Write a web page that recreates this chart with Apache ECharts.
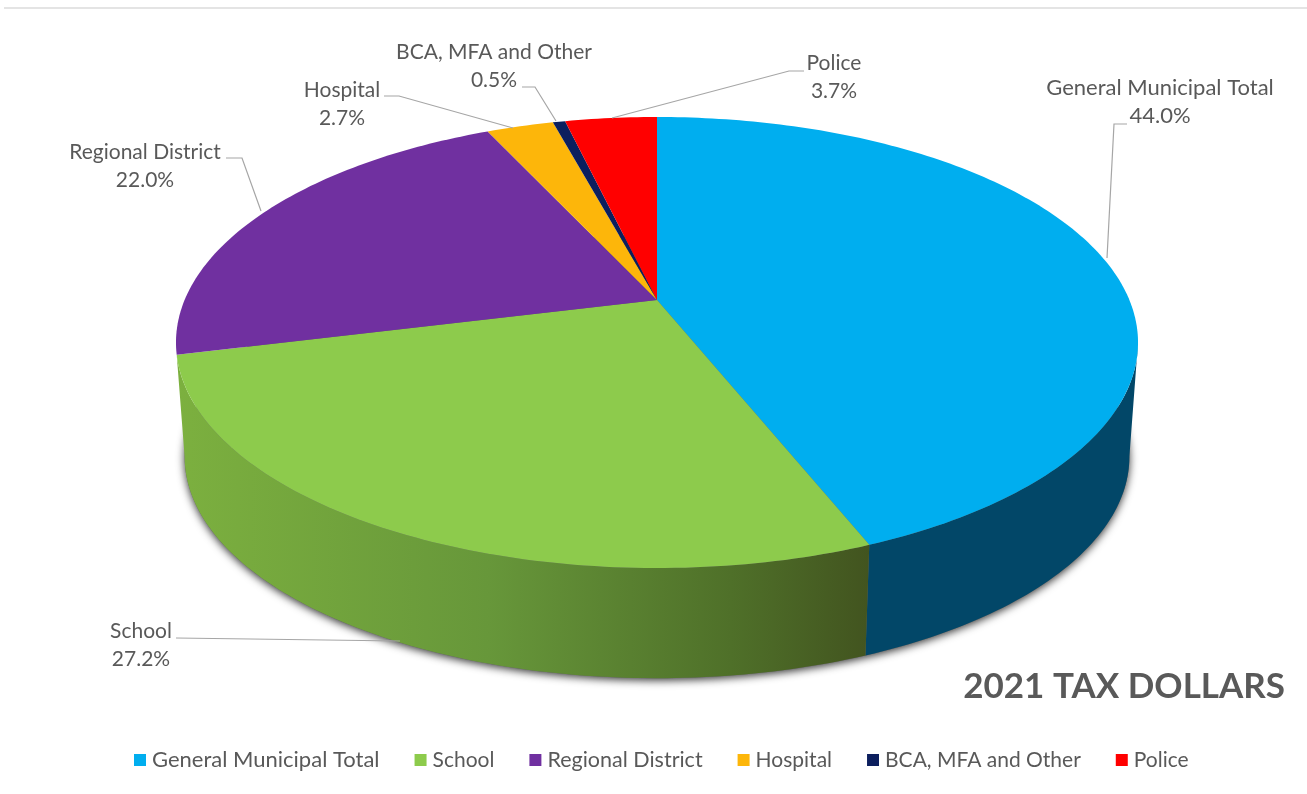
<!DOCTYPE html>
<html>
<head>
<meta charset="utf-8">
<title>2021 Tax Dollars</title>
<script src="https://cdn.jsdelivr.net/npm/echarts@6/dist/echarts.min.js"></script>
<style>
  html, body { margin: 0; padding: 0; background: #fff; }
  #chart { width: 1307px; height: 794px; }
</style>
</head>
<body>
<div id="chart"></div>
<script>
// Share of each tax dollar, in percent, clockwise from twelve o'clock.
const categories = ['General Municipal Total', 'School', 'Regional District', 'Hospital', 'BCA, MFA and Other', 'Police'];
const shares = [44.0, 27.2, 22.0, 2.7, 0.5, 3.7];

const topColors = ['#00AEEF', '#8DCB4C', '#7030A0', '#FDB60A', '#0C1F5E', '#FF0000'];

// Legend text sizes; the two longer names run slightly larger.
const legendSizes = [22, 21, 21.5, 21, 21, 21];

// Label centres and the leader line running from each label to its slice.
const labelCentres = [[1160, 74], [141, 617], [145, 138], [342, 76], [494, 38], [834, 49]];
const leaderLines = [
  [[1127, 124], [1114, 124], [1107, 258]],
  [[176, 638], [400, 641]],
  [[226, 158], [242, 158], [261, 211]],
  [[384, 96], [399, 96], [513, 128]],
  [[522, 87], [535, 87], [556, 121]],
  [[804, 71], [789, 71], [612, 118]]
];

// Tilted-disc projection: a point on the unit circle maps to the screen through
// a perspective divide, so the near half of the disc comes out larger.
const disc = { cx: 657, cy: 300, ax: 472.4, ay: 217.5, k: 0.1885 };
const floor = { cy: 415, scale: 0.982 };
const total = shares.reduce((a, b) => a + b, 0);

function project(deg, cy, scale) {
  const t = deg * Math.PI / 180;
  const u = Math.sin(t), d = -Math.cos(t);
  const w = 1 - disc.k * d;
  return [disc.cx + scale * disc.ax * u / w, cy + scale * disc.ay * d / w];
}
const rimTop = deg => project(deg, disc.cy, 1);
const rimBottom = deg => project(deg, floor.cy, floor.scale);

function arc(fn, from, to) {
  const pts = [];
  const n = Math.max(2, Math.ceil(Math.abs(to - from)));
  for (let i = 0; i <= n; i++) pts.push(fn(from + (to - from) * i / n));
  return pts;
}

// Angle at which the projected rim reaches its widest point on either side.
const widest = Math.acos(-disc.k) * 180 / Math.PI;
const rightEdge = widest, leftEdge = 360 - widest;

// Side wall paints for the two slices that face the viewer.
const wallFills = {
  0: '#024768',
  1: new echarts.graphic.LinearGradient(0, 0, 1, 0, [
    { offset: 0, color: '#7CB03F' },
    { offset: 0.45, color: '#67973A' },
    { offset: 0.8, color: '#4F7029' },
    { offset: 1, color: '#42541F' }
  ])
};

function wallFor(index, a0, a1) {
  if (wallFills[index] === undefined) return null;
  const from = Math.max(a0, rightEdge), to = Math.min(a1, 360);
  const end = index === 1 ? leftEdge : to;
  const points = arc(rimTop, from, to).concat(arc(rimBottom, end, from));
  return { type: 'polygon', shape: { points }, style: { fill: wallFills[index] }, z2: 1 };
}

let running = 0;
const sliceSeries = categories.map((name, i) => {
  const start = running / total * 360;
  running += shares[i];
  const end = running / total * 360;
  return {
    type: 'custom',
    name,
    coordinateSystem: 'none',
    itemStyle: { color: topColors[i] },
    data: [{ name, value: [start, end, shares[i]] }],
    renderItem: (params, api) => {
      const a0 = api.value(0), a1 = api.value(1), share = api.value(2);
      const children = [];
      const wall = wallFor(i, a0, a1);
      if (wall) children.push(wall);
      children.push({
        type: 'polygon',
        shape: { points: [[disc.cx, disc.cy]].concat(arc(rimTop, a0, a1)) },
        style: { fill: topColors[i] },
        z2: 3
      });
      children.push({
        type: 'polyline',
        shape: { points: leaderLines[i] },
        style: { fill: 'none', stroke: '#A6A6A6', lineWidth: 1.2 },
        z2: 4
      });
      children.push({
        type: 'text',
        x: labelCentres[i][0],
        y: labelCentres[i][1],
        style: {
          text: name + '\n' + share.toFixed(1) + '%',
          fill: '#595959',
          font: (i === 0 ? 22 : 21) + 'px Lato',
          lineHeight: 28,
          align: 'center',
          verticalAlign: 'top'
        },
        z2: 5
      });
      return { type: 'group', children };
    }
  };
});

// Soft shadow cast under the wall of the disc.
const shadowSeries = {
  type: 'custom',
  name: 'rim shadow',
  coordinateSystem: 'none',
  silent: true,
  data: [[0, 360]],
  renderItem: (params, api) => ({
    type: 'polygon',
    shape: { points: arc(rimBottom, api.value(0), api.value(1)) },
    style: {
      fill: '#666',
      shadowColor: 'rgba(0,0,0,0.8)',
      shadowBlur: 8,
      shadowOffsetY: 2
    },
    z2: 0
  })
};

const chart = echarts.init(document.getElementById('chart'), null, { renderer: 'canvas' });
chart.setOption({
  animation: false,
  backgroundColor: '#fff',
  title: {
    text: '2021 TAX DOLLARS',
    right: 17,
    top: 664,
    textStyle: { color: '#595959', fontFamily: 'Lato', fontWeight: 'bold', fontSize: 35 }
  },
  legend: {
    data: categories.map((name, i) => ({ name, textStyle: { fontSize: legendSizes[i] } })),
    left: 129,
    top: 744,
    icon: 'rect',
    itemWidth: 12,
    itemHeight: 12,
    itemGap: 35,
    textStyle: { color: '#595959', fontFamily: 'Lato', fontSize: 21, padding: [0, 0, 0, 1] }
  },
  graphic: [{
    type: 'line',
    shape: { x1: 4, y1: 8, x2: 1307, y2: 8 },
    style: { stroke: '#E4E4E4', lineWidth: 2 }
  }],
  series: [shadowSeries].concat(sliceSeries)
});
</script>
</body>
</html>
